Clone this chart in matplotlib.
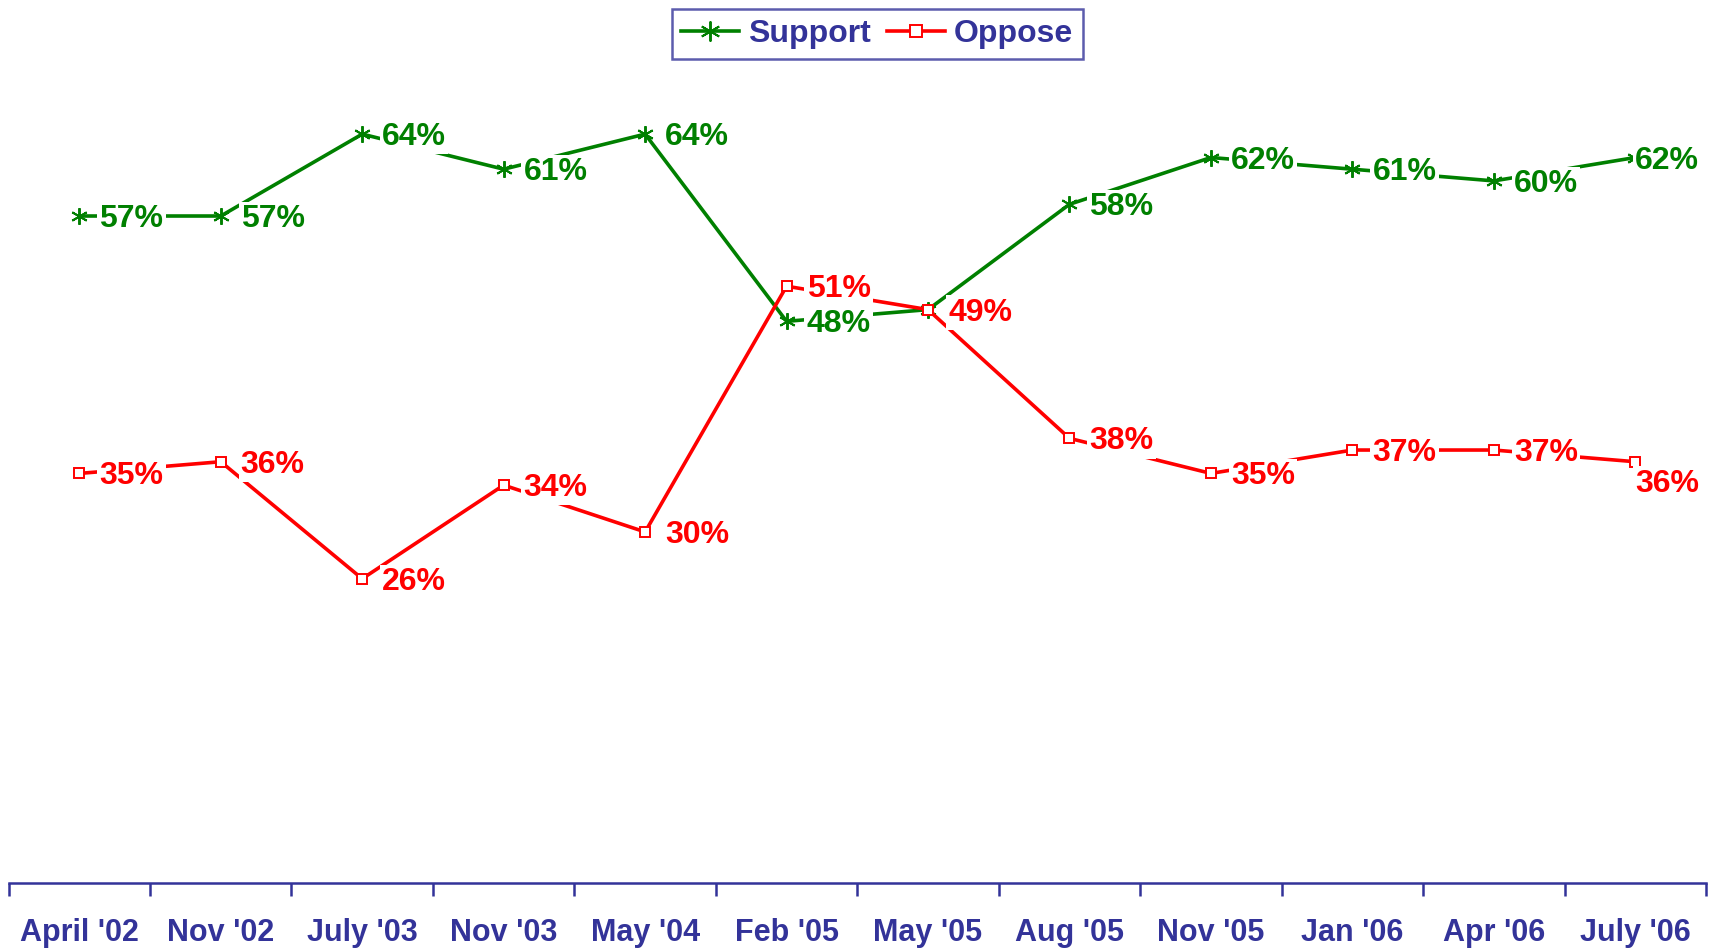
import numpy as np
import matplotlib
matplotlib.use("Agg")
import matplotlib.pyplot as plt

plt.rcParams['font.family'] = ['Liberation Sans', 'DejaVu Sans']
plt.rcParams['font.weight'] = 'bold'

# Data
periods = ["April '02", "Nov '02", "July '03", "Nov '03", "May '04", "Feb '05",
           "May '05", "Aug '05", "Nov '05", "Jan '06", "Apr '06", "July '06"]
support = [57, 57, 64, 61, 64, 48, 49, 58, 62, 61, 60, 62]
oppose = [35, 36, 26, 34, 30, 51, 49, 38, 35, 37, 37, 36]
# which points get a printed label (May '05 support has none)
support_shown = [True] * 12
support_shown[6] = False

navy = '#333399'
green = '#008000'
red = '#ff0000'

fig = plt.figure(figsize=(17.17, 9.48), dpi=100)
ax = fig.add_axes([0.005, 0.0686, 0.9886, 0.864])

x = np.arange(len(periods))
ax.plot(x, support, color=green, lw=2.6, marker=(6, 2, 0), ms=12,
        mew=1.4, label='Support', zorder=2)
ax.plot(x, oppose, color=red, lw=2.6, marker='s', ms=7, mfc='white',
        mew=1.4, label='Oppose', zorder=2)

box = dict(facecolor='white', edgecolor='none', pad=1.5)
last = len(periods) - 1
for i in x:
    # last column is squeezed against the right edge
    dx = 20 if i != last else 0
    if support_shown[i]:
        ax.annotate(f"{support[i]}%", (i, support[i]), xytext=(dx, -3),
                    textcoords='offset pixels', ha='left', va='center', fontsize=23,
                    color=green, fontweight='bold', bbox=box, zorder=3)
    dy = -3 if i != last else -22
    ax.annotate(f"{oppose[i]}%", (i, oppose[i]), xytext=(dx, dy),
                textcoords='offset pixels', ha='left', va='center', fontsize=23,
                color=red, fontweight='bold', bbox=box, zorder=3)

ax.set_xlim(-0.5, len(periods) - 0.5)
ax.set_ylim(0, 70)
ax.set_yticks([])
for side in ['left', 'right', 'top']:
    ax.spines[side].set_visible(False)
ax.spines['bottom'].set_color(navy)
ax.spines['bottom'].set_linewidth(1.8)

# ticks sit between categories, labels centred under each category
ax.set_xticks(np.arange(-0.5, len(periods), 1.0))
ax.set_xticklabels([])
ax.tick_params(axis='x', which='major', direction='out', length=9, width=1.8,
               color=navy)
ax.set_xticks(x, minor=True)
ax.set_xticklabels(periods, minor=True, fontsize=22, fontweight='bold', color=navy)
ax.tick_params(axis='x', which='minor', length=0, pad=25)

leg = fig.legend(loc='upper center', bbox_to_anchor=(0.511, 1.007), ncol=2,
                 fontsize=23, frameon=True, fancybox=False, handlelength=1.8,
                 columnspacing=0.5, handletextpad=0.3, borderpad=0.3,
                 markerscale=1.2)
leg.get_frame().set_edgecolor(navy)
leg.get_frame().set_linewidth(1.8)
for t in leg.get_texts():
    t.set_color(navy)
    t.set_fontweight('bold')

fig.savefig('out.png', dpi=100)
